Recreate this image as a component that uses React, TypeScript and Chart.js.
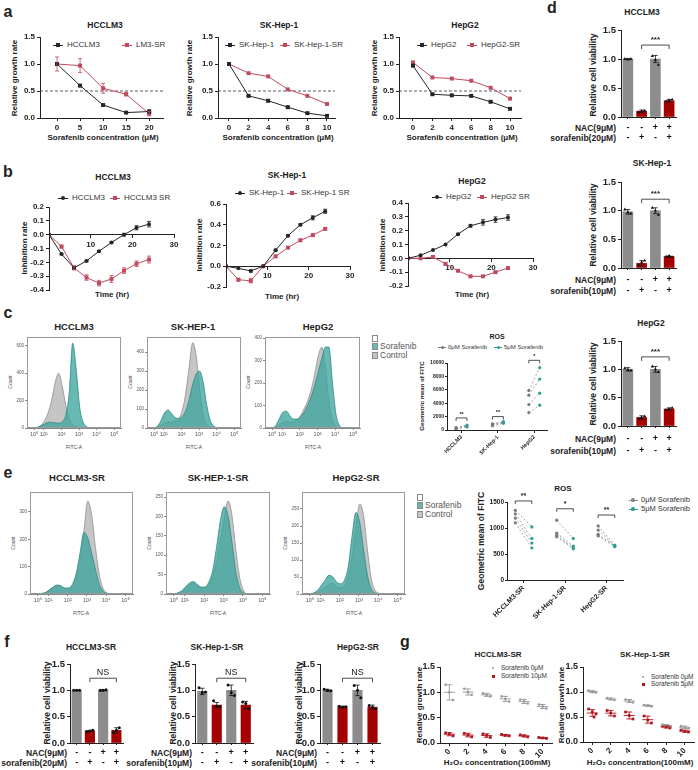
import React, { useEffect, useMemo, useRef } from 'react';
import { Chart, registerables } from 'chart.js';

Chart.register(...registerables);
const FF = '"Liberation Sans", Arial, Helvetica, sans-serif';
Chart.defaults.font.family = FF;

/* ---------------- panel a ---------------- */
const aConcLM3 = [0, 5, 10, 15, 20];
const aLM3 = [1.0, 0.6, 0.24, 0.1, 0.12];
const aLM3Err = [0.02, 0.02, 0.01, 0.01, 0.03];
const aLM3SR = [1.0, 0.97, 0.55, 0.44, 0.08];
const aLM3SRErr = [0.13, 0.13, 0.09, 0.03, 0.04];
const aConcSK = [0, 2, 4, 6, 8, 10];
const aSK = [1.0, 0.41, 0.32, 0.2, 0.09, 0.04];
const aSKErr = [0.01, 0.01, 0.02, 0.02, 0.01, 0.01];
const aSKSR = [1.0, 0.83, 0.77, 0.53, 0.41, 0.26];
const aConcHep = [0, 2, 4, 6, 8, 10];
const aHep = [0.97, 0.44, 0.42, 0.41, 0.3, 0.17];
const aHepErr = [0.02, 0.01, 0.01, 0.02, 0.01, 0.01];
const aHepSR = [1.03, 0.75, 0.73, 0.69, 0.56, 0.36];
const aYTicks = [0, 0.5, 1.0, 1.5];

/* ---------------- panel b ---------------- */
const bTime = [0, 3, 6, 9, 12, 15, 18, 21, 24];
const bXTicks = [10, 20, 30];
const bLM3 = [0, -0.14, -0.24, -0.19, -0.12, -0.056, 0, 0.05, 0.076];
const bLM3Err = [0, 0.005, 0.01, 0.005, 0.005, 0.005, 0.01, 0.015, 0.02];
const bLM3SR = [0, -0.086, -0.24, -0.31, -0.35, -0.32, -0.26, -0.21, -0.18];
const bLM3SRErr = [0, 0.01, 0.015, 0.02, 0.02, 0.025, 0.02, 0.02, 0.025];
const bLM3YTicks = [-0.4, -0.3, -0.2, -0.1, 0, 0.1, 0.2];
const bSK = [0, -0.02, -0.045, 0, 0.155, 0.295, 0.4, 0.467, 0.53];
const bSKErr = [0, 0, 0.01, 0, 0.01, 0.01, 0.01, 0.02, 0.02];
const bSKSR = [0, -0.13, -0.14, 0, 0.095, 0.18, 0.25, 0.3, 0.36];
const bSKSRErr = [0, 0.01, 0.02, 0, 0.01, 0.01, 0.01, 0.01, 0.01];
const bSKYTicks = [-0.2, 0, 0.2, 0.4, 0.6];
const bHep = [0, 0.022, 0.06, 0.1, 0.175, 0.235, 0.26, 0.28, 0.295];
const bHepErr = [0, 0, 0, 0, 0.005, 0.01, 0.02, 0.02, 0.02];
const bHepSR = [0, 0, 0.01, -0.04, -0.09, -0.13, -0.13, -0.1, -0.07];
const bHepSRErr = [0, 0, 0, 0.01, 0.005, 0.005, 0.005, 0.005, 0.005];
const bHepYTicks = [-0.2, -0.1, 0, 0.1, 0.2, 0.3, 0.4];

/* ---------------- histograms (c, e) ---------------- */
const histX = [-0.4, -0.2, 0, 0.2, 0.4, 0.6, 0.8, 1.0, 1.2, 1.4, 1.6, 1.8, 2.0, 2.2, 2.4, 2.6, 2.8, 3.0, 3.2, 3.4, 3.6, 3.8, 4.0, 4.2, 4.4, 4.6, 4.8];
const histTicks = [0, 0.56, 1.56, 2.56, 3.56, 4.56];
const histTickLabels = ['10⁰', '10¹', '10²', '10³', '10⁴', '10⁵'];
const cLM3Ctrl = [0, 0, 0, 5, 20, 55, 110, 200, 330, 400, 310, 170, 70, 25, 8, 2, 0, 0, 0, 0, 0, 0, 0, 0, 0, 0, 0];
const cLM3Sora = [0, 0, 0, 5, 15, 30, 40, 42, 38, 35, 45, 90, 250, 620, 430, 150, 40, 10, 2, 0, 0, 0, 0, 0, 0, 0, 0];
const cSKCtrl = [0, 0, 0, 5, 15, 25, 30, 30, 35, 50, 90, 180, 320, 450, 380, 200, 70, 20, 4, 0, 0, 0, 0, 0, 0, 0, 0];
const cSKSora = [0, 0, 0, 10, 40, 80, 95, 75, 55, 50, 60, 90, 150, 230, 285, 300, 240, 120, 40, 10, 2, 0, 0, 0, 0, 0, 0];
const cHepCtrl = [0, 0, 0, 5, 15, 25, 30, 25, 25, 35, 55, 85, 120, 170, 240, 320, 360, 270, 120, 35, 8, 0, 0, 0, 0, 0, 0];
const cHepSora = [0, 0, 0, 10, 40, 70, 75, 55, 40, 40, 50, 70, 100, 140, 190, 250, 310, 360, 360, 200, 60, 10, 0, 0, 0, 0, 0];
const eLM3Ctrl = [0, 0, 0, 2, 5, 15, 25, 30, 28, 20, 20, 30, 60, 120, 230, 340, 290, 170, 70, 20, 4, 0, 0, 0, 0, 0, 0];
const eLM3Sora = [0, 0, 0, 2, 5, 15, 25, 33, 30, 22, 22, 35, 75, 150, 225, 205, 150, 90, 35, 10, 2, 0, 0, 0, 0, 0, 0];
const eSKCtrl = [0, 0, 0, 2, 6, 15, 24, 28, 22, 15, 15, 25, 45, 85, 140, 195, 240, 200, 110, 40, 8, 0, 0, 0, 0, 0, 0];
const eSKSora = [0, 0, 0, 3, 8, 18, 28, 32, 25, 18, 18, 30, 60, 120, 190, 225, 200, 130, 55, 15, 3, 0, 0, 0, 0, 0, 0];
const eHepCtrl = [0, 0, 0, 2, 6, 12, 20, 28, 32, 22, 18, 25, 50, 110, 200, 265, 230, 130, 45, 10, 2, 0, 0, 0, 0, 0, 0];
const eHepSora = [0, 0, 0, 3, 10, 25, 40, 55, 50, 35, 30, 40, 80, 170, 240, 210, 130, 55, 15, 3, 0, 0, 0, 0, 0, 0, 0];

/* ---------------- ROS (c, e) ---------------- */
const rosCCats = ['HCCLM3', 'SK-Hep-1', 'HepG2'];
const rosC_LM3_0 = [150, 250, 350];
const rosC_LM3_5 = [450, 600, 750];
const rosC_SK_0 = [650, 800, 900];
const rosC_SK_5 = [1000, 1150, 1250];
const rosC_Hep_0 = [2600, 3800, 5200, 5900];
const rosC_Hep_5 = [3700, 5500, 7600, 9300];
const rosCTicks = [0, 2000, 4000, 6000, 8000, 10000];
const rosCSig = ['**', '**', '*'];
const rosCSigY = [1800, 2000, 10400];
const rosECats = ['HCCLM3-SR', 'SK-Hep-1-SR', 'HepG2-SR'];
const rosE_LM3_0 = [1340, 1270, 1190, 1100];
const rosE_LM3_5 = [1020, 800, 710, 615];
const rosE_SK_0 = [1150, 900, 860, 830];
const rosE_SK_5 = [800, 650, 615, 600];
const rosE_Hep_0 = [1040, 960, 880, 850];
const rosE_Hep_5 = [670, 660, 650, 640];
const rosETicks = [0, 500, 1000, 1500];
const rosESig = ['**', '*', '**'];
const rosESigY = [1520, 1370, 1250];

/* ---------------- bars (d, f) ---------------- */
const barYTicks = [0, 0.5, 1.0, 1.5];
const nacSigns = ['-', '-', '+', '+'];
const sorSigns = ['-', '+', '-', '+'];
const dLM3 = [1.0, 0.1, 1.0, 0.28];
const dLM3Err = [0.01, 0.02, 0.06, 0.02];
const dLM3Pts = [[1.0, 0.99, 1.0], [0.08, 0.1, 0.11], [1.05, 0.98, 0.9], [0.27, 0.29, 0.3]];
const dSK = [0.98, 0.08, 1.0, 0.2];
const dSKErr = [0.04, 0.05, 0.05, 0.01];
const dSKPts = [[1.02, 0.97, 0.95], [0.05, 0.1, 0.13], [1.05, 1.0, 0.93], [0.2, 0.21, 0.19]];
const dHep = [1.0, 0.15, 1.0, 0.3];
const dHepErr = [0.03, 0.03, 0.05, 0.02];
const dHepPts = [[1.02, 0.99, 0.98], [0.13, 0.15, 0.17], [1.05, 1.0, 0.95], [0.28, 0.3, 0.32]];
const fLM3 = [1.0, 0.23, 1.0, 0.24];
const fLM3Err = [0.005, 0.01, 0.01, 0.05];
const fLM3Pts = [[1.0, 1.0, 1.0], [0.22, 0.23, 0.24], [1.0, 1.0, 1.01], [0.2, 0.24, 0.29]];
const fSK = [0.98, 0.72, 1.0, 0.72];
const fSKErr = [0.06, 0.05, 0.1, 0.07];
const fSKPts = [[1.05, 0.96, 0.97], [0.8, 0.7, 0.69], [1.1, 0.96, 0.9], [0.78, 0.75, 0.65]];
const fHep = [1.0, 0.69, 1.0, 0.68];
const fHepErr = [0.02, 0.01, 0.1, 0.04];
const fHepPts = [[1.02, 1.0, 0.99], [0.7, 0.68, 0.69], [1.09, 1.0, 0.86], [0.71, 0.68, 0.65]];

/* ---------------- g ---------------- */
const gCats = ['0', '2', '4', '6', '8', '10'];
const gLM3_0 = [[1.15, 1.0, 0.85], [1.07, 1.0, 0.95], [0.98, 0.95, 0.92], [0.92, 0.87, 0.82], [0.86, 0.82, 0.78], [0.76, 0.72, 0.68]];
const gLM3_10 = [[0.2, 0.18, 0.14], [0.19, 0.16, 0.12], [0.18, 0.15, 0.11], [0.17, 0.15, 0.14], [0.16, 0.14, 0.12], [0.11, 0.1, 0.09]];
const gSK_0 = [[1.03, 1.0, 0.99], [0.88, 0.86, 0.84], [0.85, 0.82, 0.79], [0.74, 0.73, 0.71], [0.35, 0.33, 0.31], [0.32, 0.29, 0.27]];
const gSK_5 = [[0.66, 0.6, 0.56, 0.5], [0.63, 0.58, 0.52], [0.6, 0.53, 0.46], [0.52, 0.44, 0.38], [0.32, 0.3, 0.28], [0.24, 0.21, 0.2]];

/* ---------------- colours ---------------- */
const BLACK = '#262626';
const ROSE = '#c04a5e';
const TEAL_FILL = 'rgba(62,165,158,0.78)';
const TEAL_LINE = '#2c8a84';
const GREY_FILL = 'rgba(192,192,192,0.92)';
const GREY_LINE = '#8f8f8f';
const BAR_GREY = '#8c8c8c';
const BAR_RED = '#a50000';
const G_GREY = '#999999';
const G_RED = '#b0141c';

/* ---------------- helpers ---------------- */
type Area = { L: number; T: number; R: number; B: number };
type Box = { x: number; y: number; w: number; h: number };

function boxFor(a: Area, m: number[]): Box {
  const x = Math.max(0, a.L - m[0]);
  const y = Math.max(0, a.T - m[1]);
  const w = Math.min(698, a.R + m[2]) - x;
  const h = Math.min(770, a.B + m[3]) - y;
  return { x, y, w, h };
}

function base(a: Area, b: Box, yw: number, xh: number) {
  return {
    responsive: false,
    animation: false,
    events: [],
    layout: {
      padding: { left: a.L - b.x - yw, top: a.T - b.y, right: b.x + b.w - a.R, bottom: b.y + b.h - a.B - xh },
    },
    plugins: { legend: { display: false }, tooltip: { enabled: false } },
  };
}

function axis(o: any) {
  const isX = o.dir === 'x';
  return {
    type: 'linear',
    position: o.pos ?? (isX ? 'bottom' : 'left'),
    min: o.min,
    max: o.max,
    offset: false,
    afterFit: (s: any) => {
      if (isX) s.height = o.fit;
      else s.width = o.fit;
    },
    afterBuildTicks: (s: any) => {
      s.ticks = o.ticks.map((v: number) => ({ value: v }));
    },
    grid: { display: true, drawOnChartArea: false, drawTicks: true, tickLength: o.tl ?? 3, color: o.color ?? '#222', lineWidth: o.lw ?? 1, offset: false },
    border: { display: true, color: o.color ?? '#222', width: o.lw ?? 1 },
    ticks: {
      autoSkip: false,
      padding: o.pad ?? 2,
      color: o.tcolor ?? '#222',
      font: { size: o.size ?? 8, weight: o.weight ?? 'bold', family: FF },
      callback: (v: any, i: number) => o.fmt(v, i),
      maxRotation: o.rot ?? 0,
      minRotation: o.rot ?? 0,
    },
  };
}

function drawErr(chart: any, xs: number[], vals: number[], errs: number[], color: string, cap = 2) {
  const { ctx } = chart;
  const sx = chart.scales.x;
  const sy = chart.scales.y;
  ctx.save();
  ctx.strokeStyle = color;
  ctx.lineWidth = 0.8;
  vals.forEach((v, i) => {
    const e = errs[i];
    if (!e) return;
    const px = sx.getPixelForValue(xs[i]);
    const y1 = sy.getPixelForValue(v + e);
    const y2 = sy.getPixelForValue(v - e);
    ctx.beginPath();
    ctx.moveTo(px, y1);
    ctx.lineTo(px, y2);
    ctx.moveTo(px - cap, y1);
    ctx.lineTo(px + cap, y1);
    ctx.moveTo(px - cap, y2);
    ctx.lineTo(px + cap, y2);
    ctx.stroke();
  });
  ctx.restore();
}

function drawBracket(chart: any, x1: number, x2: number, yv: number, label: string, font: string, leg = 3) {
  const { ctx } = chart;
  const p1 = chart.scales.x.getPixelForValue(x1);
  const p2 = chart.scales.x.getPixelForValue(x2);
  const py = chart.scales.y.getPixelForValue(yv);
  ctx.save();
  ctx.strokeStyle = '#222';
  ctx.lineWidth = 0.8;
  ctx.beginPath();
  ctx.moveTo(p1, py + leg);
  ctx.lineTo(p1, py);
  ctx.lineTo(p2, py);
  ctx.lineTo(p2, py + leg);
  ctx.stroke();
  ctx.fillStyle = '#222';
  ctx.font = font;
  ctx.textAlign = 'center';
  ctx.textBaseline = 'bottom';
  ctx.fillText(label, (p1 + p2) / 2, py - 1);
  ctx.restore();
}

type Spec = { box: Box; config: any };

/* ---------- line charts (a, b) ---------- */
function lineSpec(area: Area, m: number[], xs: number[], series: any[], xr: number[], xt: number[], yr: number[], yt: number[], dyn: boolean, dashY?: number): Spec {
  const box = boxFor(area, m);
  const YW = area.L - box.x;
  const XH = dyn ? 0 : box.y + box.h - area.B;
  return {
    box,
    config: {
      type: 'line',
      data: {
        datasets: series.map((s: any, k: number) => ({
          data: xs.map((x, i) => ({ x, y: s.v[i] })),
          borderColor: s.c,
          backgroundColor: s.c,
          pointBackgroundColor: s.c,
          borderWidth: 1,
          pointStyle: s.shape,
          pointRadius: s.r,
          pointBorderWidth: 0,
          tension: 0,
          fill: false,
          order: k,
        })),
      },
      options: {
        ...base(area, box, YW, XH),
        scales: {
          x: axis({ dir: 'x', min: xr[0], max: xr[1], ticks: xt, fmt: (v: number) => String(v), fit: XH, pos: dyn ? { y: 0 } : 'bottom', size: 8 }),
          y: axis({ dir: 'y', min: yr[0], max: yr[1], ticks: yt, fmt: (v: number) => v.toFixed(1), fit: YW, size: 8 }),
        },
      },
      plugins: [
        {
          id: 'lineDeco',
          beforeDatasetsDraw(chart: any) {
            if (dashY === undefined) return;
            const { ctx, chartArea: ca } = chart;
            const y = chart.scales.y.getPixelForValue(dashY);
            ctx.save();
            ctx.setLineDash([3, 2]);
            ctx.strokeStyle = '#333';
            ctx.lineWidth = 0.8;
            ctx.beginPath();
            ctx.moveTo(ca.left, y);
            ctx.lineTo(ca.right, y);
            ctx.stroke();
            ctx.restore();
          },
          afterDatasetsDraw(chart: any) {
            series.forEach((s: any) => {
              if (s.e) drawErr(chart, xs, s.v, s.e, s.c, 2);
            });
          },
        },
      ],
    },
  };
}

/* ---------- histograms (c, e) ---------- */
function histSpec(area: Area, ymax: number, yt: number[], ctrl: number[], sora: number[]): Spec {
  const box = boxFor(area, [26, 8, 8, 16]);
  const YW = area.L - box.x;
  const XH = box.y + box.h - area.B;
  const mk = (arr: number[], fillC: string, lineC: string, order: number) => ({
    data: histX.map((x, i) => ({ x, y: arr[i] })),
    fill: 'origin',
    backgroundColor: fillC,
    borderColor: lineC,
    borderWidth: 0.8,
    pointRadius: 0,
    cubicInterpolationMode: 'monotone',
    order,
  });
  return {
    box,
    config: {
      type: 'line',
      data: { datasets: [mk(sora, TEAL_FILL, TEAL_LINE, 0), mk(ctrl, GREY_FILL, GREY_LINE, 1)] },
      options: {
        ...base(area, box, YW, XH),
        scales: {
          x: axis({ dir: 'x', min: -0.4, max: 4.95, ticks: histTicks, fmt: (_v: number, i: number) => histTickLabels[i], fit: XH, size: 5.5, weight: 'normal', color: '#888', tcolor: '#555', tl: 2, pad: 1 }),
          y: axis({ dir: 'y', min: 0, max: ymax, ticks: yt, fmt: (v: number) => String(v), fit: YW, size: 4.5, weight: 'normal', color: '#888', tcolor: '#555', tl: 2, pad: 1 }),
        },
      },
      plugins: [
        {
          id: 'frame',
          afterDatasetsDraw(chart: any) {
            const { ctx, chartArea: ca } = chart;
            ctx.save();
            ctx.strokeStyle = '#9a9a9a';
            ctx.lineWidth = 1;
            ctx.strokeRect(ca.left + 0.5, ca.top + 0.5, ca.right - ca.left - 1, ca.bottom - ca.top - 1);
            ctx.restore();
          },
        },
      ],
    },
  };
}

/* ---------- ROS paired plots ---------- */
function rosSpec(area: Area, m: number[], groups: number[][][], cats: string[], off: number, xr: number[], ymax: number, yt: number[], tsize: number, csize: number, sig: string[], sigY: number[], sigSize: number): Spec {
  const box = boxFor(area, m);
  const YW = area.L - box.x;
  const XH = box.y + box.h - area.B;
  const datasets: any[] = [];
  groups.forEach((g, ci) => {
    g[0].forEach((v, j) => {
      datasets.push({
        data: [
          { x: ci + 1 - off, y: v },
          { x: ci + 1 + off, y: g[1][j] },
        ],
        borderColor: '#8a8a8a',
        borderDash: [2, 2],
        borderWidth: 0.8,
        pointRadius: 1.6,
        pointBorderWidth: 0,
        pointBackgroundColor: ['#7a7a7a', '#2f9e92'],
        tension: 0,
        fill: false,
      });
    });
  });
  return {
    box,
    config: {
      type: 'line',
      data: { datasets },
      options: {
        ...base(area, box, YW, XH),
        scales: {
          x: axis({ dir: 'x', min: xr[0], max: xr[1], ticks: [1, 2, 3], fmt: (_v: number, i: number) => cats[i], fit: XH, size: csize, rot: 45, tl: 3, pad: 1 }),
          y: axis({ dir: 'y', min: 0, max: ymax, ticks: yt, fmt: (v: number) => String(v), fit: YW, size: tsize, tl: 2, pad: 1 }),
        },
      },
      plugins: [
        {
          id: 'rosSig',
          afterDatasetsDraw(chart: any) {
            sig.forEach((s, i) => drawBracket(chart, i + 1 - off, i + 1 + off, sigY[i], s, `bold ${sigSize}px ${FF}`, 3));
          },
        },
      ],
    },
  };
}

/* ---------- bar charts (d, f) ---------- */
const PT_JIT = [-0.22, 0, 0.22];
function barSpec(area: Area, ml: number, vals: number[], errs: number[], pts: number[][], rowsY: number[], sigLabel: string, sigFont: string, sigY: number, ptStyle: string, thick: number): Spec {
  const box = boxFor(area, [ml, 24, 10, rowsY[1] - area.B + 8]);
  const YW = area.L - box.x;
  const XH = 6;
  const colors = [BAR_GREY, BAR_RED, BAR_GREY, BAR_RED];
  const xs = [0, 1, 2, 3];
  return {
    box,
    config: {
      type: 'bar',
      data: {
        datasets: [
          {
            type: 'scatter',
            data: pts.flatMap((g, i) => g.map((v, j) => ({ x: i + PT_JIT[j], y: v }))),
            pointStyle: ptStyle,
            pointRadius: ptStyle === 'triangle' ? 1.9 : 1.5,
            backgroundColor: '#111',
            borderColor: '#111',
            borderWidth: 0,
            order: 0,
          },
          {
            type: 'bar',
            data: xs.map((x, i) => ({ x, y: vals[i] })),
            backgroundColor: colors,
            barThickness: thick,
            borderWidth: 0,
            order: 1,
          },
        ],
      },
      options: {
        ...base(area, box, YW, XH),
        scales: {
          x: axis({ dir: 'x', min: -0.5, max: 3.5, ticks: xs, fmt: () => '', fit: XH, size: 8, tl: 2, pad: 0 }),
          y: axis({ dir: 'y', min: 0, max: 1.5, ticks: barYTicks, fmt: (v: number) => v.toFixed(1), fit: YW, size: 9.5, tl: 3, pad: 2 }),
        },
      },
      plugins: [
        {
          id: 'barDeco',
          afterDatasetsDraw(chart: any) {
            drawErr(chart, xs, vals, errs, '#111', 2.2);
            drawBracket(chart, 1, 3, sigY, sigLabel, sigFont, 4);
            const { ctx } = chart;
            ctx.save();
            ctx.fillStyle = '#111';
            ctx.font = `bold 9px ${FF}`;
            ctx.textAlign = 'center';
            ctx.textBaseline = 'middle';
            [nacSigns, sorSigns].forEach((row, r) => {
              row.forEach((s, i) => {
                ctx.fillText(s, chart.scales.x.getPixelForValue(i), rowsY[r] - box.y);
              });
            });
            ctx.restore();
          },
        },
      ],
    },
  };
}

/* ---------- g scatter with mean ± SD ---------- */
const G_JIT = [-0.2, 0, 0.2, 0.1];
function gSpec(area: Area, s0: number[][], s1: number[][]): Spec {
  const box = boxFor(area, [26, 10, 1, 20]);
  const YW = area.L - box.x;
  const XH = box.y + box.h - area.B;
  const series = [
    { d: s0, c: G_GREY, shape: 'circle', r: 1.3 },
    { d: s1, c: G_RED, shape: 'rect', r: 1.9 },
  ];
  return {
    box,
    config: {
      type: 'scatter',
      data: {
        datasets: series.map((s) => ({
          data: s.d.flatMap((g, i) => g.map((v, j) => ({ x: i + G_JIT[j], y: v }))),
          pointStyle: s.shape,
          pointRadius: s.r,
          backgroundColor: s.c,
          borderWidth: 0,
        })),
      },
      options: {
        ...base(area, box, YW, XH),
        scales: {
          x: axis({ dir: 'x', min: -0.5, max: 5.5, ticks: [0, 1, 2, 3, 4, 5], fmt: (_v: number, i: number) => gCats[i], fit: XH, size: 8, rot: 45, tl: 3, pad: 1 }),
          y: axis({ dir: 'y', min: 0, max: 1.5, ticks: barYTicks, fmt: (v: number) => v.toFixed(1), fit: YW, size: 9, tl: 3, pad: 2 }),
        },
      },
      plugins: [
        {
          id: 'meanSD',
          afterDatasetsDraw(chart: any) {
            const { ctx } = chart;
            const sx = chart.scales.x;
            const sy = chart.scales.y;
            ctx.save();
            ctx.lineWidth = 0.9;
            series.forEach((s) => {
              ctx.strokeStyle = s.c;
              s.d.forEach((g, i) => {
                const mean = g.reduce((a, b) => a + b, 0) / g.length;
                const sd = Math.sqrt(g.reduce((a, b) => a + (b - mean) * (b - mean), 0) / (g.length - 1));
                const yM = sy.getPixelForValue(mean);
                const y1 = sy.getPixelForValue(mean + sd);
                const y2 = sy.getPixelForValue(mean - sd);
                ctx.beginPath();
                ctx.moveTo(sx.getPixelForValue(i - 0.3), yM);
                ctx.lineTo(sx.getPixelForValue(i + 0.3), yM);
                ctx.moveTo(sx.getPixelForValue(i), y1);
                ctx.lineTo(sx.getPixelForValue(i), y2);
                ctx.moveTo(sx.getPixelForValue(i - 0.15), y1);
                ctx.lineTo(sx.getPixelForValue(i + 0.15), y1);
                ctx.moveTo(sx.getPixelForValue(i - 0.15), y2);
                ctx.lineTo(sx.getPixelForValue(i + 0.15), y2);
                ctx.stroke();
              });
            });
            ctx.restore();
          },
        },
      ],
    },
  };
}

/* ---------------- chart list ---------------- */
const A_M = [45, 12, 12, 14];
const B_M = [45, 12, 12, 16];
const specs: (() => Spec)[] = [
  // a
  () => lineSpec({ L: 40, T: 37, R: 163, B: 118 }, A_M, aConcLM3, [
    { v: aLM3, e: aLM3Err, c: BLACK, shape: 'rect', r: 2.8 },
    { v: aLM3SR, e: aLM3SRErr, c: ROSE, shape: 'rect', r: 2.8 },
  ], [-3.7, 23], [0, 5, 10, 15, 20], [0, 1.5], aYTicks, false, 0.5),
  () => lineSpec({ L: 218, T: 37, R: 335, B: 118 }, A_M, aConcSK, [
    { v: aSK, e: aSKErr, c: BLACK, shape: 'rect', r: 2.8 },
    { v: aSKSR, c: ROSE, shape: 'rect', r: 2.8 },
  ], [-1.12, 10.82], aConcSK, [0, 1.5], aYTicks, false, 0.5),
  () => lineSpec({ L: 399, T: 37, R: 521, B: 118 }, A_M, aConcHep, [
    { v: aHep, e: aHepErr, c: BLACK, shape: 'rect', r: 2.8 },
    { v: aHepSR, c: ROSE, shape: 'rect', r: 2.8 },
  ], [-1.44, 11.13], aConcHep, [0, 1.5], aYTicks, false, 0.5),
  // b
  () => lineSpec({ L: 49, T: 207, R: 174, B: 290 }, B_M, bTime, [
    { v: bLM3, e: bLM3Err, c: BLACK, shape: 'circle', r: 2 },
    { v: bLM3SR, e: bLM3SRErr, c: ROSE, shape: 'rect', r: 2.8 },
  ], [0, 30], bXTicks, [-0.4, 0.2], bLM3YTicks, true),
  () => lineSpec({ L: 226, T: 204, R: 350, B: 287 }, B_M, bTime, [
    { v: bSK, e: bSKErr, c: BLACK, shape: 'circle', r: 2 },
    { v: bSKSR, e: bSKSRErr, c: ROSE, shape: 'rect', r: 2.8 },
  ], [0, 30], bXTicks, [-0.2, 0.6], bSKYTicks, true),
  () => lineSpec({ L: 408, T: 203, R: 533, B: 286 }, B_M, bTime, [
    { v: bHep, e: bHepErr, c: BLACK, shape: 'circle', r: 2 },
    { v: bHepSR, e: bHepSRErr, c: ROSE, shape: 'rect', r: 2.8 },
  ], [0, 30], bXTicks, [-0.2, 0.4], bHepYTicks, true),
  // c histograms
  () => histSpec({ L: 27, T: 337, R: 121, B: 428 }, 665, [0, 200, 400, 600], cLM3Ctrl, cLM3Sora),
  () => histSpec({ L: 147, T: 337, R: 241, B: 428 }, 480, [0, 100, 200, 300, 400], cSKCtrl, cSKSora),
  () => histSpec({ L: 265, T: 337, R: 360, B: 428 }, 405, [0, 100, 200, 300, 400], cHepCtrl, cHepSora),
  // c ROS
  () => rosSpec({ L: 447, T: 363, R: 547, B: 430 }, [20, 14, 8, 30], [[rosC_LM3_0, rosC_LM3_5], [rosC_SK_0, rosC_SK_5], [rosC_Hep_0, rosC_Hep_5]], rosCCats, 0.15, [0.6, 3.35], 10000, rosCTicks, 5, 5.5, rosCSig, rosCSigY, 5.5),
  // e histograms
  () => histSpec({ L: 30, T: 492, R: 133, B: 594 }, 373, [0, 100, 200, 300], eLM3Ctrl, eLM3Sora),
  () => histSpec({ L: 166, T: 492, R: 270, B: 594 }, 263, [0, 50, 100, 150, 200, 250], eSKCtrl, eSKSora),
  () => histSpec({ L: 302, T: 492, R: 405, B: 594 }, 300, [0, 50, 100, 150, 200, 250], eHepCtrl, eHepSora),
  // e ROS
  () => rosSpec({ L: 507, T: 502, R: 623, B: 580 }, [22, 14, 8, 46], [[rosE_LM3_0, rosE_LM3_5], [rosE_SK_0, rosE_SK_5], [rosE_Hep_0, rosE_Hep_5]], rosECats, 0.2, [0.6, 3.4], 1500, rosETicks, 6.5, 7, rosESig, rosESigY, 7),
  // d
  () => barSpec({ L: 621, T: 30, R: 676, B: 117 }, 24, dLM3, dLM3Err, dLM3Pts, [128, 138], '***', `bold 8px ${FF}`, 1.24, 'triangle', 10),
  () => barSpec({ L: 621, T: 182, R: 676, B: 268 }, 24, dSK, dSKErr, dSKPts, [280, 291], '***', `bold 8px ${FF}`, 1.2, 'triangle', 10),
  () => barSpec({ L: 621, T: 341, R: 676, B: 426 }, 24, dHep, dHepErr, dHepPts, [439, 451], '***', `bold 8px ${FF}`, 1.22, 'triangle', 10),
  // f
  () => barSpec({ L: 70, T: 664, R: 123, B: 743 }, 24, fLM3, fLM3Err, fLM3Pts, [753, 763], 'NS', `9px ${FF}`, 1.23, 'circle', 9.5),
  () => barSpec({ L: 195, T: 664, R: 253, B: 743 }, 24, fSK, fSKErr, fSKPts, [753, 763], 'NS', `9px ${FF}`, 1.23, 'circle', 9.5),
  () => barSpec({ L: 320, T: 664, R: 380, B: 743 }, 24, fHep, fHepErr, fHepPts, [753, 763], 'NS', `9px ${FF}`, 1.23, 'circle', 9.5),
  // g
  () => gSpec({ L: 440, T: 667, R: 555, B: 743 }, gLM3_0, gLM3_10),
  () => gSpec({ L: 583, T: 667, R: 697, B: 742 }, gSK_0, gSK_5),
];

/* ---------------- components ---------------- */
function ChartBox({ make }: { make: () => Spec }) {
  const ref = useRef<HTMLCanvasElement>(null);
  const box = useMemo(() => make().box, [make]);
  useEffect(() => {
    const ch = new Chart(ref.current as HTMLCanvasElement, make().config);
    return () => ch.destroy();
  }, [make]);
  return <canvas ref={ref} width={box.w} height={box.h} style={{ position: 'absolute', left: box.x, top: box.y, width: box.w, height: box.h }} />;
}

function T({ x, y, s = 8, b = true, a = 'c', r = false, c = '#222', children }: any) {
  const tx = a === 'c' ? '-50%' : a === 'l' ? '0' : '-100%';
  return (
    <div
      style={{
        position: 'absolute',
        left: x,
        top: y,
        transform: `translate(${tx},-50%)${r ? ' rotate(-90deg)' : ''}`,
        fontSize: s,
        fontWeight: b ? 'bold' : 'normal',
        color: c,
        whiteSpace: 'nowrap',
        lineHeight: 1,
        fontFamily: FF,
      }}
    >
      {children}
    </div>
  );
}

function Mark({ x, y, c, shape = 'rect', dash = false, size = 4, w = 10 }: any) {
  return (
    <>
      {w > 0 && <div style={{ position: 'absolute', left: x - w / 2, top: y - 0.5, width: w, height: 0, borderTop: `1px ${dash ? 'dashed' : 'solid'} ${c}` }} />}
      <div style={{ position: 'absolute', left: x - size / 2, top: y - size / 2, width: size, height: size, background: c, borderRadius: shape === 'circle' ? '50%' : 0 }} />
    </>
  );
}

function Swatch({ x, y, fill }: any) {
  return <div style={{ position: 'absolute', left: x, top: y - 3.5, width: 6, height: 7, background: fill, border: '1px solid #8a8a8a', boxSizing: 'border-box' }} />;
}

function Leg({ x, y, c, label, shape, s = 8, dash = false, w = 10, size = 4, gap = 9 }: any) {
  return (
    <>
      <Mark x={x} y={y} c={c} shape={shape} dash={dash} w={w} size={size} />
      <T x={x + gap} y={y} s={s} b={false} a="l" c="#333">
        {label}
      </T>
    </>
  );
}

export default function App() {
  return (
    <div style={{ position: 'absolute', left: 0, top: 0, width: 698, height: 770, overflow: 'hidden', background: '#fff', fontFamily: FF }}>
      {/* panel letters */}
      <T x={8} y={12} s={16}>a</T>
      <T x={8} y={172} s={16}>b</T>
      <T x={8} y={313} s={16}>c</T>
      <T x={552} y={8} s={16}>d</T>
      <T x={8} y={473} s={16}>e</T>
      <T x={7} y={642} s={16}>f</T>
      <T x={405} y={642} s={16}>g</T>

      {/* a */}
      <T x={105} y={25} s={8.5}>HCCLM3</T>
      <T x={279} y={25} s={8.5}>SK-Hep-1</T>
      <T x={465} y={25} s={8.5}>HepG2</T>
      <Leg x={58} y={45} c={BLACK} label="HCCLM3" shape="rect" />
      <Leg x={127} y={45} c={ROSE} label="LM3-SR" shape="rect" />
      <Leg x={230} y={45} c={BLACK} label="SK-Hep-1" shape="rect" />
      <Leg x={285} y={45} c={ROSE} label="SK-Hep-1-SR" shape="rect" />
      <Leg x={422} y={45} c={BLACK} label="HepG2" shape="rect" />
      <Leg x={472} y={45} c={ROSE} label="HepG2-SR" shape="rect" />
      <T x={103} y={138}>Sorafenib concentration (μM)</T>
      <T x={278} y={138}>Sorafenib concentration (μM)</T>
      <T x={462} y={138}>Sorafenib concentration (μM)</T>
      <T x={15} y={78} r>Relative growth rate</T>
      <T x={190} y={78} r>Relative growth rate</T>
      <T x={375} y={78} r>Relative growth rate</T>

      {/* b */}
      <T x={113} y={177} s={8.5}>HCCLM3</T>
      <T x={287} y={175} s={8.5}>SK-Hep-1</T>
      <T x={472} y={181} s={8.5}>HepG2</T>
      <Leg x={63} y={198} c={BLACK} label="HCCLM3" shape="circle" />
      <Leg x={115} y={198} c={ROSE} label="HCCLM3 SR" shape="rect" />
      <Leg x={240} y={193} c={BLACK} label="SK-Hep-1" shape="circle" />
      <Leg x={292} y={193} c={ROSE} label="SK-Hep-1 SR" shape="rect" />
      <Leg x={437} y={197} c={BLACK} label="HepG2" shape="circle" />
      <Leg x={482} y={197} c={ROSE} label="HepG2 SR" shape="rect" />
      <T x={112} y={295}>Time (hr)</T>
      <T x={282} y={297}>Time (hr)</T>
      <T x={472} y={295}>Time (hr)</T>
      <T x={25} y={248} r>Inhibition rate</T>
      <T x={200} y={245} r>Inhibition rate</T>
      <T x={383} y={245} r>Inhibition rate</T>

      {/* c */}
      <T x={74} y={327} s={9.5}>HCCLM3</T>
      <T x={193} y={327} s={9.5}>SK-HEP-1</T>
      <T x={318} y={327} s={9.5}>HepG2</T>
      <T x={74} y={447} s={5} b={false} c="#444">FITC-A</T>
      <T x={194} y={447} s={5} b={false} c="#444">FITC-A</T>
      <T x={313} y={447} s={5} b={false} c="#444">FITC-A</T>
      <T x={10} y={382} s={5} b={false} r c="#444">Count</T>
      <T x={130} y={382} s={5} b={false} r c="#444">Count</T>
      <T x={248} y={382} s={5} b={false} r c="#444">Count</T>
      <Swatch x={372} y={338} fill="#fff" />
      <Swatch x={372} y={346} fill={TEAL_FILL} />
      <Swatch x={372} y={355} fill={GREY_FILL} />
      <T x={380} y={346} s={8.5} b={false} a="l" c="#555">Sorafenib</T>
      <T x={380} y={355} s={8.5} b={false} a="l" c="#555">Control</T>
      <T x={497} y={336} s={7}>ROS</T>
      <Leg x={442} y={347} c="#777" label="0μM Sorafenib" shape="circle" s={6} dash w={8} size={3} gap={6} />
      <Leg x={498} y={347} c="#2f9e92" label="5μM Sorafenib" shape="circle" s={6} dash w={8} size={3} gap={6} />
      <T x={422} y={396} s={6} r>Geometric mean of FITC</T>

      {/* d */}
      <T x={642} y={12} s={8.5}>HCCLM3</T>
      <T x={652} y={163} s={8.5}>SK-Hep-1</T>
      <T x={651} y={323} s={8.5}>HepG2</T>
      <T x={593} y={75} s={8.5} r>Relative cell viability</T>
      <T x={593} y={225} s={8.5} r>Relative cell viability</T>
      <T x={593} y={384} s={8.5} r>Relative cell viability</T>
      <T x={616} y={128} s={8.5} a="r">NAC(9μM)</T>
      <T x={616} y={138} s={8.5} a="r">sorafenib(20μM)</T>
      <T x={616} y={280} s={8.5} a="r">NAC(9μM)</T>
      <T x={616} y={291} s={8.5} a="r">sorafenib(10μM)</T>
      <T x={616} y={439} s={8.5} a="r">NAC(9μM)</T>
      <T x={616} y={451} s={8.5} a="r">sorafenib(10μM)</T>

      {/* e */}
      <T x={77} y={478} s={9.5}>HCCLM3-SR</T>
      <T x={218} y={478} s={9.5}>SK-HEP-1-SR</T>
      <T x={356} y={478} s={9.5}>HepG2-SR</T>
      <T x={81} y={613} s={5} b={false} c="#444">FITC-A</T>
      <T x={218} y={613} s={5} b={false} c="#444">FITC-A</T>
      <T x={354} y={613} s={5} b={false} c="#444">FITC-A</T>
      <T x={13} y={543} s={5} b={false} r c="#444">Count</T>
      <T x={149} y={543} s={5} b={false} r c="#444">Count</T>
      <T x={285} y={543} s={5} b={false} r c="#444">Count</T>
      <Swatch x={417} y={497} fill="#fff" />
      <Swatch x={417} y={505} fill={TEAL_FILL} />
      <Swatch x={417} y={514} fill={GREY_FILL} />
      <T x={425} y={505} s={8.5} b={false} a="l" c="#555">Sorafenib</T>
      <T x={425} y={514} s={8.5} b={false} a="l" c="#555">Control</T>
      <T x={563} y={489} s={8}>ROS</T>
      <T x={481} y={541} s={8.5} r>Geometric mean of FITC</T>
      <Leg x={633} y={500} c="#888" label="0μM Sorafenib" shape="circle" s={7.5} dash w={9} size={3.2} gap={8} />
      <Leg x={633} y={509} c="#2f9e92" label="5μM Sorafenib" shape="circle" s={7.5} dash w={9} size={3.2} gap={8} />

      {/* f */}
      <T x={91} y={647} s={8.5}>HCCLM3-SR</T>
      <T x={217} y={647} s={8.5}>SK-Hep-1-SR</T>
      <T x={358} y={647} s={8.5}>HepG2-SR</T>
      <T x={47} y={703} s={8.5} r>Relative cell viability</T>
      <T x={173} y={703} s={8.5} r>Relative cell viability</T>
      <T x={299} y={703} s={8.5} r>Relative cell viability</T>
      <T x={67} y={753} s={8.5} a="r">NAC(9μM)</T>
      <T x={67} y={763} s={8.5} a="r">sorafenib(20μM)</T>
      <T x={192} y={753} s={8.5} a="r">NAC(9μM)</T>
      <T x={192} y={763} s={8.5} a="r">sorafenib(10μM)</T>
      <T x={317} y={753} s={8.5} a="r">NAC(9μM)</T>
      <T x={317} y={763} s={8.5} a="r">sorafenib(10μM)</T>

      {/* g */}
      <T x={498} y={655} s={8}>HCCLM3-SR</T>
      <T x={645} y={655} s={8}>SK-Hep-1-SR</T>
      <T x={420} y={705} s={8} r>Relative growth rate</T>
      <T x={562} y={705} s={8} r>Relative growth rate</T>
      <T x={497} y={763} s={8}>H₂O₂ concentration(100mM)</T>
      <T x={640} y={763} s={8}>H₂O₂ concentration(100mM)</T>
      <Leg x={493} y={668} c={G_GREY} label="Sorafenib 0μM" shape="circle" s={6.5} w={0} size={2.5} gap={8} />
      <Leg x={493} y={676} c={G_RED} label="Sorafenib 10μM" shape="rect" s={6.5} w={0} size={3} gap={8} />
      <Leg x={643} y={677} c={G_GREY} label="Sorafenib 0μM" shape="circle" s={6.5} w={0} size={2.5} gap={8} />
      <Leg x={643} y={684} c={G_RED} label="Sorafenib 5μM" shape="rect" s={6.5} w={0} size={3} gap={8} />

      {specs.map((f, i) => (
        <ChartBox key={i} make={f} />
      ))}
    </div>
  );
}
